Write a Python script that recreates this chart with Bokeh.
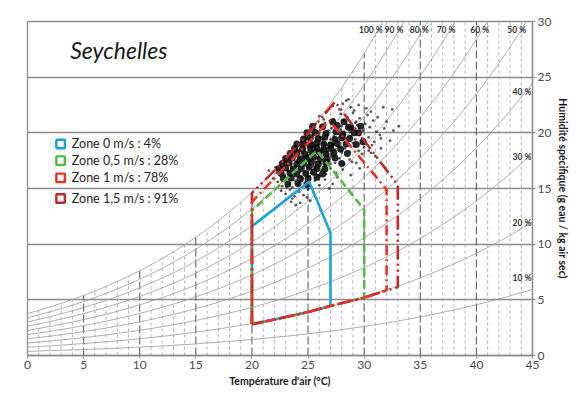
import numpy as np
from bokeh.plotting import figure
from bokeh.models import Range1d, FixedTicker
from bokeh.embed import file_html
from bokeh.resources import INLINE
from bokeh.core.properties import value

# ---------------- data ----------------
x_ticks = [0, 5, 10, 15, 20, 25, 30, 35, 40, 45]
y_ticks = [0, 5, 10, 15, 20, 25, 30]
rh_levels = [10, 20, 30, 40, 50, 60, 70, 80, 90, 100]
vline_T = list(range(1, 45))

top_rh_labels = ["100 %", "90 %", "80 %", "70 %", "60 %", "50 %"]
top_rh_T = [30.6, 32.65, 34.9, 37.3, 40.3, 43.6]
side_rh_labels = ["40 %", "30 %", "20 %", "10 %"]
side_rh_w = [23.7, 17.8, 11.9, 6.95]

legend_labels = ["Zone 0 m/s : 4%", "Zone 0,5 m/s : 28%", "Zone 1 m/s : 78%", "Zone 1,5 m/s :  91%"]
legend_colors = ["#1aa3e0", "#52b848", "#ee3124", "#c1272d"]
legend_w = [19.0, 17.5, 15.95, 14.1]

zone0_T = [20.0, 20.0, 25.1, 27.0, 27.0, 25.0, 23.0, 20.0]
zone0_w = [2.8, 11.6, 15.6, 11.0, 4.45, 3.9, 3.45, 2.8]
zone05_T = [20.0, 20.0, 25.8, 30.0, 30.0, 27.0, 25.0, 23.0, 20.0]
zone05_w = [2.8, 13.0, 18.4, 13.1, 5.2, 4.45, 3.9, 3.45, 2.8]
zone1_T = [20.0, 20.0, 26.9, 32.0, 32.0, 30.0, 27.0, 25.0, 23.0, 20.0]
zone1_w = [2.8, 13.8, 21.1, 14.9, 5.85, 5.2, 4.45, 3.9, 3.45, 2.8]
zone15_T = [20.0, 20.0, 22.0, 24.0, 26.0, 27.4, 33.0, 33.0, 32.0, 30.0, 27.0, 25.0, 23.0, 20.0]
zone15_w = [2.8, 14.6, 16.6, 18.8, 21.1, 22.8, 15.3, 6.15, 5.85, 5.2, 4.45, 3.9, 3.45, 2.8]

cloud_T = [
    27.2, 28.1, 28.8, 29.5, 28.4, 27.8, 29.1, 30.2, 30.6, 31.7, 32.5,
    26.0, 26.6, 27.3, 27.9, 28.5, 29.0, 29.6, 30.3, 30.8, 27.0, 28.2, 29.3, 26.4, 31.2, 32.0,
    25.2, 25.7, 26.2, 26.8, 27.4, 27.9, 28.4, 28.9, 29.4, 29.9, 30.5, 31.1, 31.8, 26.5, 27.1, 28.0, 28.7, 29.2, 30.1, 25.9, 32.6, 33.1,
    24.4, 24.8, 25.1, 25.5, 25.8, 26.1, 26.4, 26.7, 27.0, 27.3, 27.6, 27.9, 28.2, 28.5, 28.8, 29.2, 29.6, 30.0, 30.4, 30.9, 31.5,
    25.3, 26.0, 26.9, 27.7, 28.3, 29.0, 29.8, 24.9, 26.3, 27.2, 32.3,
    23.6, 23.9, 24.1, 24.3, 24.5, 24.7, 24.9, 25.1, 25.3, 25.5, 25.7, 25.9, 26.1, 26.3, 26.5, 26.7, 26.9, 27.1, 27.4, 27.7,
    28.0, 28.3, 28.7, 29.1, 29.5, 30.0, 30.6, 24.4, 25.0, 25.6, 26.2, 26.8, 27.3, 24.2, 25.4, 26.6, 31.5,
    22.9, 23.2, 23.5, 23.7, 23.9, 24.1, 24.3, 24.5, 24.7, 24.9, 25.1, 25.3, 25.5, 25.7, 25.9, 26.1, 26.3, 26.5, 26.8, 27.1,
    27.4, 27.8, 28.2, 28.7, 29.3, 24.0, 24.6, 25.2, 25.8, 26.4, 27.0, 23.4, 22.5, 31.0,
    22.2, 22.6, 22.9, 23.2, 23.5, 23.8, 24.1, 24.4, 24.7, 25.0, 25.3, 25.6, 25.9, 26.2, 26.6, 27.0, 27.5, 28.1, 28.8,
    23.7, 24.3, 25.1, 21.5,
    22.3, 22.7, 23.0, 23.3, 23.6, 23.9, 24.2, 24.5, 24.8, 25.2, 25.6, 26.0, 26.5, 27.2, 23.1, 24.0,
    22.6, 23.0, 23.4, 23.8, 24.2, 24.6, 25.0, 25.5, 23.6, 24.9,
    23.5, 24.3, 25.2,
    29.8, 30.7, 31.4, 28.9, 29.6, 30.4, 21.9, 22.1, 23.9, 26.9, 27.6, 28.6,
]
cloud_w = [
    22.4, 22.6, 22.3, 22.5, 22.9, 22.1, 22.0, 22.2, 21.9, 22.3, 22.1,
    21.5, 21.8, 21.2, 21.7, 21.4, 21.8, 21.3, 21.6, 21.1, 21.0, 21.1, 21.0, 21.2, 21.4, 21.0,
    20.3, 20.8, 20.5, 20.2, 20.7, 20.3, 20.8, 20.4, 20.7, 20.2, 20.5, 20.1, 20.4, 20.9, 20.4, 20.6, 20.1, 20.9, 20.8, 20.1, 20.2, 20.6,
    19.2, 19.7, 19.4, 19.8, 19.3, 19.6, 19.1, 19.8, 19.4, 19.7, 19.2, 19.6, 19.9, 19.3, 19.7, 19.4, 19.8, 19.3, 19.6, 19.2, 19.5,
    19.1, 19.9, 19.1, 19.9, 19.5, 19.1, 19.5, 19.5, 19.4, 19.0, 19.3,
    18.3, 18.8, 18.4, 18.9, 18.2, 18.6, 18.9, 18.3, 18.7, 18.1, 18.5, 18.9, 18.2, 18.6, 18.9, 18.3, 18.7, 18.1, 18.5, 18.8,
    18.2, 18.6, 18.3, 18.8, 18.4, 18.7, 18.2, 18.5, 18.0, 18.8, 18.4, 18.0, 18.9, 18.1, 18.4, 18.6, 18.6,
    17.4, 17.8, 17.2, 17.6, 17.9, 17.3, 17.7, 17.1, 17.5, 17.9, 17.2, 17.6, 17.0, 17.4, 17.8, 17.3, 17.7, 17.1, 17.5, 17.9,
    17.3, 17.7, 17.2, 17.6, 17.3, 17.5, 17.8, 17.5, 17.1, 17.4, 17.2, 17.6, 17.0, 17.9,
    16.4, 16.8, 16.2, 16.6, 16.9, 16.3, 16.7, 16.1, 16.5, 16.9, 16.4, 16.8, 16.2, 16.6, 16.3, 16.8, 16.4, 16.7, 16.2,
    16.6, 16.5, 16.1, 16.6,
    15.6, 15.2, 15.8, 15.4, 15.1, 15.7, 15.3, 15.9, 15.5, 15.2, 15.7, 15.3, 15.8, 15.4, 15.1, 15.5,
    14.8, 14.5, 14.9, 14.3, 14.7, 14.4, 14.9, 14.6, 14.1, 14.2,
    13.8, 13.7, 13.9,
    18.1, 18.9, 19.8, 17.4, 16.8, 18.4, 15.9, 16.9, 13.5, 15.0, 16.0, 23.0,
]
# densest part of the cloud (overlapping observations)
core_T = [
    27.2, 28.2, 28.8,
    25.4, 26.3, 27.6, 28.6, 29.7,
    24.9, 25.6, 26.6, 27.5, 28.1, 29.1, 29.5,
    24.6, 25.2, 25.9, 26.5, 27.4, 28.0, 28.7, 29.9,
    24.0, 24.6, 25.3, 25.8, 26.4, 27.0, 27.6, 28.4, 29.3,
    23.8, 24.5, 25.2, 25.8, 26.4, 27.0, 27.9,
    23.4, 24.0, 24.7, 25.4, 26.0, 26.6, 27.3, 28.5,
    23.0, 23.6, 24.3, 24.9, 25.5, 26.1, 26.7, 27.4,
    22.7, 23.3, 24.0, 24.6, 25.3, 25.9, 26.6, 28.0,
    22.4, 23.0, 23.7, 24.4, 25.1, 25.8, 26.5,
    22.6, 23.4, 24.0, 24.8, 25.5, 26.3,
    22.8, 23.5, 24.3, 25.0, 25.8,
    23.2, 24.1, 24.9,
]
core_w = [
    21.0, 21.0, 20.5,
    20.6, 20.55, 20.65, 20.5, 20.6,
    20.0, 20.05, 19.95, 20.1, 19.9, 20.0, 20.0,
    19.45, 19.55, 19.5, 19.6, 19.4, 19.55, 19.5, 19.2,
    19.0, 19.05, 18.95, 19.1, 19.0, 18.9, 19.05, 19.0, 18.95,
    18.6, 18.55, 18.65, 18.6, 18.5, 18.6, 18.55,
    18.15, 18.2, 18.1, 18.15, 18.25, 18.1, 18.2, 18.15,
    17.7, 17.75, 17.65, 17.7, 17.8, 17.7, 17.65, 17.75,
    17.25, 17.3, 17.2, 17.25, 17.35, 17.2, 17.3, 17.25,
    16.8, 16.85, 16.75, 16.8, 16.9, 16.8, 16.75,
    16.35, 16.4, 16.3, 16.35, 16.45, 16.3,
    15.9, 15.95, 15.85, 15.9, 16.0,
    15.4, 15.45, 15.35,
]


# psychrometric construction of the chart grid (moisture content at given RH)
def w_at(T, rh):
    es = 0.61094 * np.exp(17.625 * T / (T + 243.04))
    e = rh / 100.0 * es
    return 622.0 * e / (101.325 - e)


FONT = "Lato"
GRID = "#8c8c8c"

p = figure(width=572, height=389,
           x_range=Range1d(0, 45), y_range=Range1d(0, 30),
           output_backend="svg", toolbar_location=None,
           y_axis_location="right",
           min_border_left=27, min_border_top=21, min_border_bottom=30, min_border_right=35)

p.background_fill_color = "white"
p.border_fill_color = "white"
p.outline_line_color = GRID
p.outline_line_width = 1.3

p.xgrid.visible = False
p.ygrid.ticker = FixedTicker(ticks=y_ticks)
p.ygrid.grid_line_color = GRID
p.ygrid.grid_line_width = 1.3

for ax, ticks in ((p.xaxis, x_ticks), (p.yaxis, y_ticks)):
    ax.ticker = FixedTicker(ticks=ticks)
    ax.axis_line_color = GRID
    ax.axis_line_width = 1.3
    ax.major_tick_line_color = GRID
    ax.major_tick_out = 3
    ax.major_tick_in = 0
    ax.minor_tick_line_color = None
    ax.major_label_text_font = FONT
    ax.major_label_text_font_size = "12px"
    ax.major_label_text_color = "#4a4a4a"
    ax.major_label_standoff = 2
    ax.axis_label_text_font = FONT
    ax.axis_label_text_font_style = "bold"
    ax.axis_label_text_font_size = "10.5px"
    ax.axis_label_text_color = "#1a1a1a"
    ax.axis_label_standoff = 3

p.xaxis.axis_label = "Température d'air (°C)"
p.yaxis.axis_label = "Humidité spécifique (g eau / kg air sec)"

# vertical dashed isotherms, limited by the saturation curve
for t in vline_T:
    top = min(float(w_at(t, 100)), 30.0)
    major = (t % 5 == 0)
    p.line([t, t], [0, top],
           line_color="#606060" if major else "#9c9c9c",
           line_width=1.1 if major else 0.8,
           line_dash="8 3" if major else "3 3")

# relative humidity curves
Tg = np.linspace(0, 45, 226)
p.multi_line([Tg for _ in rh_levels], [w_at(Tg, r) for r in rh_levels],
             line_color="#a2a2a2", line_width=0.9)

# data cloud
p.scatter(core_T, core_w, size=7, color="#111111", alpha=0.9, line_width=0)
p.scatter(cloud_T, cloud_w, size=2.8, color="black", alpha=0.65, line_width=0)

# comfort zones
p.line(zone0_T, zone0_w, line_color=legend_colors[0], line_width=2.6)
p.line(zone05_T, zone05_w, line_color=legend_colors[1], line_width=2.6, line_dash="8 4")
p.line(zone15_T, zone15_w, line_color=legend_colors[3], line_width=2.6, line_dash="14 4 2 4 2 4")
p.line(zone1_T, zone1_w, line_color=legend_colors[2], line_width=2.6, line_dash="10 4 2 4")

# RH labels
p.text(top_rh_T, [29.25] * len(top_rh_T), text=top_rh_labels,
       text_font=value(FONT), text_font_style="bold", text_font_size="8.5px",
       text_color="#333333", text_align="center", text_baseline="middle")
p.text([44.9] * len(side_rh_w), side_rh_w, text=side_rh_labels,
       text_font=value(FONT), text_font_style="bold", text_font_size="8.5px",
       text_color="#333333", text_align="right", text_baseline="middle")

# title
p.text([3.8], [27.4], text=["Seychelles"], text_font=value(FONT),
       text_font_style="italic", text_font_size="23px", text_color="#1a1a1a",
       text_align="left", text_baseline="middle")

# legend
p.scatter([2.95] * 4, legend_w, marker="square", size=8.5, fill_color="white",
          line_color=legend_colors, line_width=2.4)
p.text([3.95] * 4, legend_w, text=legend_labels, text_font=value(FONT),
       text_font_size="12.5px", text_color="#222222",
       text_align="left", text_baseline="middle")

open("out.html", "w").write(file_html(p, INLINE))
